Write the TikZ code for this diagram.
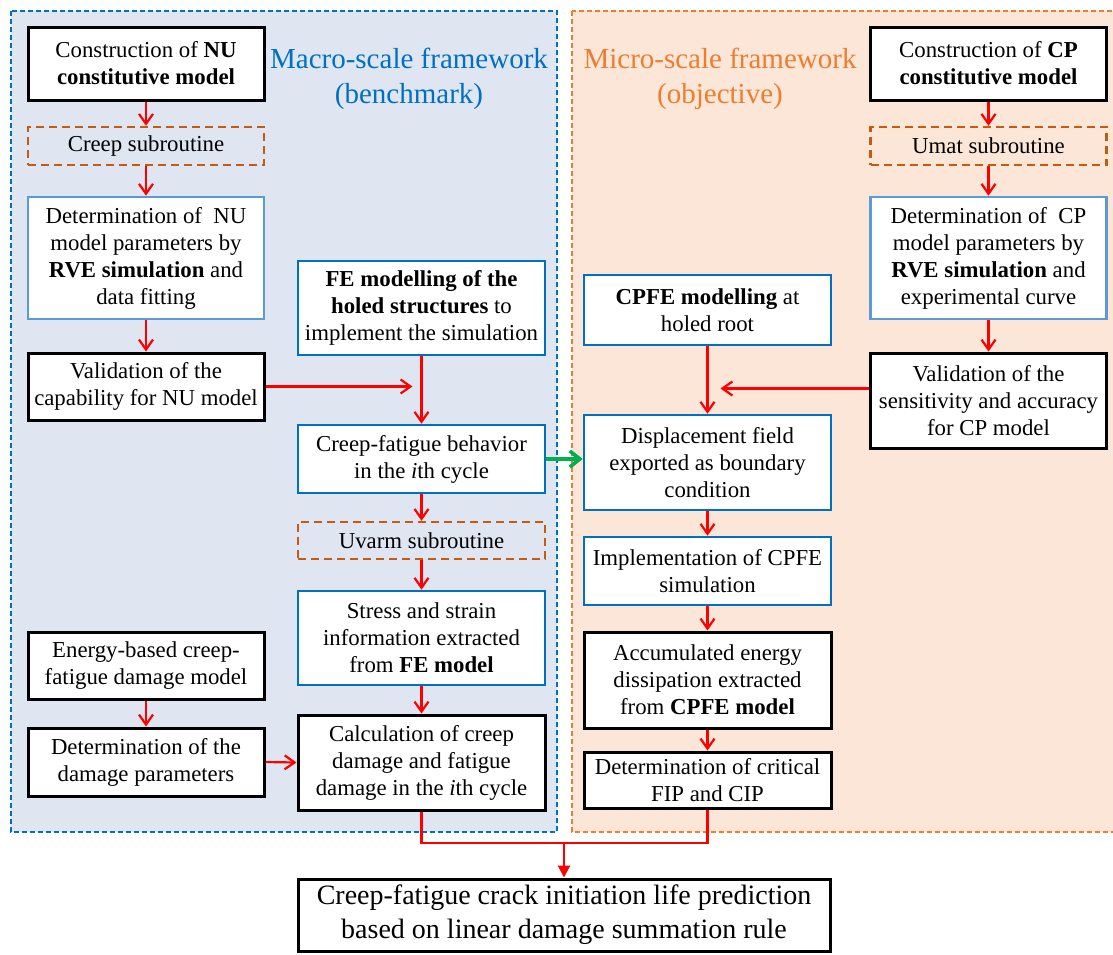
\documentclass[tikz,border=0pt]{standalone}
\usepackage{fontspec}
\setmainfont{Liberation Serif}
\usetikzlibrary{arrows.meta}
\definecolor{macrofill}{HTML}{DFE6F2}
\definecolor{microfill}{HTML}{FBE6D8}
\definecolor{macroline}{HTML}{0070C0}
\definecolor{microline}{HTML}{ED7D31}
\definecolor{subline}{HTML}{C55A11}
\definecolor{paleblue}{HTML}{5B9BD5}
\definecolor{flowred}{HTML}{FF0000}
\definecolor{flowgreen}{HTML}{00B050}

\begin{document}
\begin{tikzpicture}[x=0.5pt,y=-0.5pt,
      box/.style={rectangle,fill=white,align=center,inner sep=1pt,font=\fontsize{11.4}{13.5}\selectfont},
      blk/.style={box,draw=black,line width=1.5pt},
      blu/.style={box,draw=macroline,line width=1.3pt},
      pale/.style={box,draw=paleblue,line width=1.3pt},
      subbox/.style={box,fill=none,draw=subline,line width=1.2pt,dash pattern=on 4pt off 2.5pt},
      narrow/.style={minimum width=118pt},
      wide/.style={minimum width=123.5pt},
      arr/.style={flowred,line width=1.1pt,-{Straight Barb[length=5pt,width=7pt]}},
      title/.style={align=center,font=\fontsize{14.5}{17.5}\selectfont}]
    % picture spans the 1113 x 954 reference, y runs downwards
    \useasboundingbox (0,0) rectangle (1113,954);

    % the two framework panels
    \draw[macroline,fill=macrofill,line width=0.6pt,dash pattern=on 2.5pt off 1.5pt] (11,11) rectangle (557,832);
    \draw[microline,fill=microfill,line width=0.6pt,dash pattern=on 2.5pt off 1.5pt] (572,11) rectangle (1125,832);
    \node[title,text=macroline] (macroTitle) at (409,79) {Macro-scale framework\\(benchmark)};
    \node[title,text=microline] (microTitle) at (720,79) {Micro-scale framework\\(objective)};

    % macro-scale: model chain
    \node[blk,narrow,minimum height=36.5pt] (nuBuild) at (146,63.5) {Construction of \textbf{NU}\\\textbf{constitutive model}};
    \node[subbox,narrow,minimum height=19pt] (creepSub) at (146,146) {Creep subroutine};
    \node[pale,narrow,minimum height=61pt] (nuParam) at (146,258) {Determination of \ NU\\model parameters by\\\textbf{RVE simulation} and\\data fitting};
    \node[blk,narrow,minimum height=33.5pt] (nuCheck) at (146,386.5) {Validation of the\\capability for NU model};
    \node[blk,narrow,minimum height=33.5pt] (energyModel) at (146,665.5) {Energy-based creep-\\fatigue damage model};
    \node[blk,narrow,minimum height=34pt] (dmgParam) at (146,762) {Determination of the\\damage parameters};

    % macro-scale: structure chain
    \node[blu,wide,minimum height=47pt] (feModel) at (421.5,308) {\textbf{FE modelling of the}\\\textbf{holed structures} to\\implement the simulation};
    \node[blu,wide,minimum height=34pt] (cfCycle) at (421.5,459) {Creep-fatigue behavior\\in the \textit{i}th cycle};
    \node[subbox,wide,minimum height=18.5pt] (uvarmSub) at (421.5,540.5) {Uvarm subroutine};
    \node[blu,wide,minimum height=47pt] (feExtract) at (421.5,638) {Stress and strain\\information extracted\\from \textbf{FE model}};
    \node[blk,wide,minimum height=47.5pt] (dmgCalc) at (421.5,762.5) {Calculation of creep\\damage and fatigue\\damage in the \textit{i}th cycle};

    % micro-scale: model chain
    \node[blk,narrow,minimum height=36.5pt] (cpBuild) at (988.5,63.5) {Construction of \textbf{CP}\\\textbf{constitutive model}};
    \node[subbox,narrow,minimum height=19pt] (umatSub) at (988.5,146) {Umat subroutine};
    \node[pale,narrow,minimum height=61pt] (cpParam) at (988.5,258) {Determination of \ CP\\model parameters by\\\textbf{RVE simulation} and\\experimental curve};
    \node[blk,narrow,minimum height=47.5pt] (cpCheck) at (988.5,400.5) {Validation of the\\sensitivity and accuracy\\for CP model};

    % micro-scale: CPFE chain
    \node[blu,wide,minimum height=35pt] (cpfeModel) at (707.5,310) {\textbf{CPFE modelling} at\\holed root};
    \node[blu,wide,minimum height=47.5pt] (dispField) at (707.5,462.5) {Displacement field\\exported as boundary\\condition};
    \node[blu,wide,minimum height=34pt] (cpfeRun) at (707.5,571) {Implementation of CPFE\\simulation};
    \node[blk,wide,minimum height=48pt] (cpfeEnergy) at (707.5,680) {Accumulated energy\\dissipation extracted\\from \textbf{CPFE model}};
    \node[blk,wide,minimum height=28pt] (fipCip) at (707.5,780) {Determination of critical\\FIP and CIP};

    % result
    \node[blk,minimum width=266pt,minimum height=36pt,font=\fontsize{14}{17}\selectfont] (lifePred) at (564,915) {Creep-fatigue crack initiation life prediction\\based on linear damage summation rule};

    % vertical flow
    \foreach \a/\b in {nuBuild/creepSub,creepSub/nuParam,nuParam/nuCheck,energyModel/dmgParam,
                       feModel/cfCycle,cfCycle/uvarmSub,uvarmSub/feExtract,feExtract/dmgCalc,
                       cpBuild/umatSub,umatSub/cpParam,cpParam/cpCheck,
                       cpfeModel/dispField,dispField/cpfeRun,cpfeRun/cpfeEnergy,cpfeEnergy/fipCip}
      \draw[arr] (\a.south) -- (\b.north);

    % side inputs
    \draw[arr] (nuCheck.east) -- ([xshift=-4.5pt]nuCheck.east -| feModel.south);
    \draw[arr] ([yshift=6pt]cpCheck.west) -- ([xshift=6.5pt,yshift=6pt]cpCheck.west -| cpfeModel.south);
    \draw[arr] (dmgParam.east) -- (dmgCalc.west);
    \draw[flowgreen,line width=1.8pt,-{Straight Barb[length=5pt,width=8pt]}] (cfCycle.east) -- (cfCycle.east -| dispField.west);

    % both branches merge into the life prediction
    \coordinate (merge) at (564,843);
    \draw[flowred,line width=1.1pt] (dmgCalc.south) -- (dmgCalc.south |- merge) -- (fipCip.south |- merge) -- (fipCip.south);
    \draw[flowred,line width=1.1pt,-{Triangle[length=6pt,width=6pt]}] (merge) -- (lifePred.north);
  \end{tikzpicture}
\end{document}
